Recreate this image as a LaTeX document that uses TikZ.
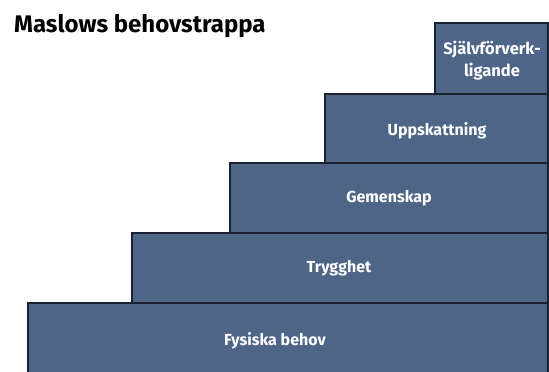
\documentclass[tikz,border=0pt]{standalone}
\usepackage{fontspec}
\setmainfont{Fira Sans}
\definecolor{stepfill}{RGB}{78,101,136}
\definecolor{stepline}{RGB}{26,34,50}
\tikzset{
  stair/.style={draw=stepline, line width=1.3pt, fill=stepfill},
  stairlabel/.style={text=white, font=\bfseries\fontsize{16}{22}\selectfont, align=center, inner sep=0pt},
  titlelabel/.style={text=black, font=\bfseries\fontsize{24}{28}\selectfont, anchor=base west, inner sep=0pt}
}
\begin{document}
\begin{tikzpicture}[x=1pt,y=1pt]
\useasboundingbox (0,0) rectangle (549,372);
\fill[white] (0,0) rectangle (549,372);
% stairs (y measured from top: y_tikz = 372 - y)
\draw[stair] (28,-2) rectangle (548,69);
\draw[stair] (132,69) rectangle (548,139);
\draw[stair] (230,139) rectangle (548,209);
\draw[stair] (325,209) rectangle (548,278);
\draw[stair] (435,278) rectangle (548,349);
% labels
\node[stairlabel] (fys) at (275,31) {Fysiska behov};
\node[stairlabel] (try) at (339,104) {Trygghet};
\node[stairlabel] (gem) at (389,174) {Gemenskap};
\node[stairlabel] (upp) at (437,241) {Uppskattning};
\node[stairlabel, font=\bfseries\fontsize{16.5}{22}\selectfont] (sjf) at (492,311) {Självförverk-\\ligande};
\node[titlelabel] (title) at (14,339) {Maslows behovstrappa};
\end{tikzpicture}
\end{document}
